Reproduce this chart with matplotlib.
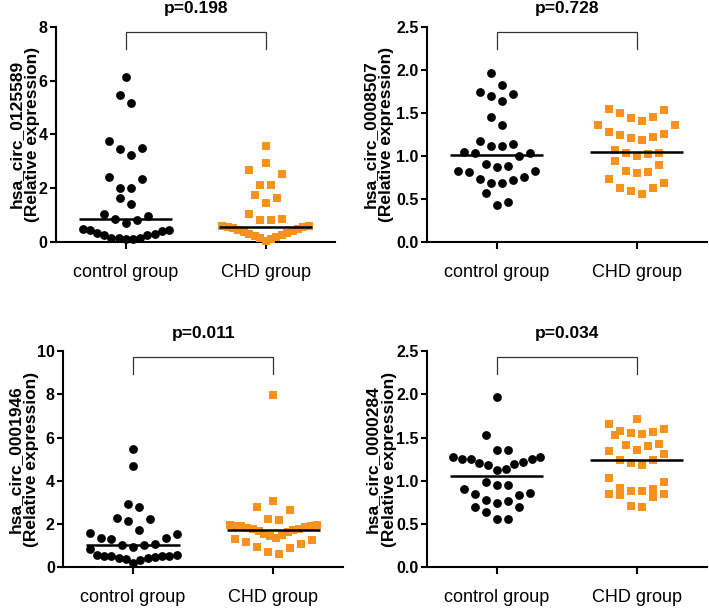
import numpy as np
import matplotlib
matplotlib.use("Agg")
import matplotlib.pyplot as plt

plt.rcParams["font.family"] = ["Liberation Sans", "DejaVu Sans"]

groups = ["control group", "CHD group"]
genes = ["hsa_circ_0125589", "hsa_circ_0008507", "hsa_circ_0001946", "hsa_circ_0000284"]
p_values = ["p=0.198", "p=0.728", "p=0.011", "p=0.034"]

# values (relative expression)
ctrl_0125589 = [6.14, 5.48, 5.17, 3.76, 3.50, 3.45, 3.25, 2.42, 2.33, 1.99, 1.99, 1.65, 1.43,
                0.96, 1.05, 0.81, 0.87, 0.71, 0.46, 0.41, 0.31, 0.25, 0.16, 0.12, 0.15, 0.12,
                0.16, 0.25, 0.35, 0.43, 0.48]
chd_0125589 = [3.57, 2.94, 2.67, 2.54, 2.13, 2.13, 1.74, 1.45, 1.65, 1.05, 0.81, 0.81, 0.87,
               0.05, 0.10, 0.14, 0.18, 0.22, 0.26, 0.30, 0.34, 0.38, 0.42, 0.45, 0.48, 0.51,
               0.54, 0.56, 0.58, 0.60]

ctrl_0008507 = [1.965, 1.83, 1.74, 1.70, 1.72, 1.64, 1.45, 1.36, 1.14, 1.12, 1.12, 1.17, 1.03,
                1.03, 1.04, 1.00, 0.91, 0.87, 0.88, 0.83, 0.81, 0.82, 0.73, 0.69, 0.68, 0.72,
                0.76, 0.57, 0.43, 0.46]
chd_0008507 = [1.55, 1.53, 1.50, 1.44, 1.41, 1.45, 1.36, 1.36, 1.28, 1.24, 1.25, 1.21, 1.19,
               1.22, 1.07, 1.03, 1.00, 1.02, 1.03, 0.94, 0.90, 0.83, 0.80, 0.81, 0.73, 0.68,
               0.63, 0.63, 0.59, 0.56]

ctrl_0001946 = [5.48, 4.66, 2.90, 2.78, 2.27, 2.24, 2.11, 1.70, 1.54, 1.59, 1.36, 1.31, 1.34,
                1.03, 0.93, 0.85, 1.00, 1.08, 0.54, 0.51, 0.49, 0.42, 0.34, 0.19, 0.39, 0.42,
                0.46, 0.49, 0.51, 0.57]
chd_0001946 = [7.99, 3.04, 2.78, 2.65, 2.24, 2.16, 1.93, 1.93, 1.92, 1.90, 1.88, 1.85, 1.82,
               1.78, 1.74, 1.70, 1.65, 1.60, 1.55, 1.48, 1.42, 1.35, 1.28, 1.25, 1.16, 1.06,
               0.93, 0.88, 0.69, 0.60]

ctrl_0000284 = [1.975, 1.53, 1.36, 1.36, 1.27, 1.25, 1.22, 1.19, 1.14, 1.13, 1.18, 1.21, 1.25,
                1.25, 1.28, 0.98, 0.95, 0.95, 0.85, 0.86, 0.90, 0.84, 0.78, 0.74, 0.77, 0.70,
                0.69, 0.64, 0.56, 0.56]
chd_0000284 = [1.72, 1.66, 1.60, 1.58, 1.54, 1.55, 1.57, 1.53, 1.43, 1.42, 1.40, 1.36, 1.34,
               1.31, 1.24, 1.24, 1.21, 1.18, 1.03, 0.99, 0.92, 0.88, 0.85, 0.85, 0.88, 0.90,
               0.81, 0.83, 0.69, 0.71]

y_ticks = [[0, 2, 4, 6, 8], [0, 0.5, 1.0, 1.5, 2.0, 2.5],
           [0, 2, 4, 6, 8, 10], [0, 0.5, 1.0, 1.5, 2.0, 2.5]]

panels = [(ctrl_0125589, chd_0125589), (ctrl_0008507, chd_0008507),
          (ctrl_0001946, chd_0001946), (ctrl_0000284, chd_0000284)]

ORANGE = "#F7921E"


def swarm_x(ax, values, center, bin_px=15, gap_px=11, half_width=0.31):
    # GraphPad-like rows: points binned by height, spread sideways, lowest in the middle
    fig = ax.figure
    bb = ax.get_position()
    w = fig.get_figwidth() * fig.dpi * bb.width
    h = fig.get_figheight() * fig.dpi * bb.height
    x0, x1 = ax.get_xlim()
    y0, y1 = ax.get_ylim()
    ppx = w / (x1 - x0)
    ppy = h / (y1 - y0)
    vals = np.asarray(values, dtype=float)
    order = np.argsort(vals, kind="stable")
    xs = np.zeros(len(vals))
    i = 0
    while i < len(order):
        start = vals[order[i]]
        j = i
        while j < len(order) and (vals[order[j]] - start) * ppy < bin_px:
            j += 1
        idx = order[i:j]
        n = len(idx)
        sp = min(gap_px / ppx, 2 * half_width / (n - 1)) if n > 1 else 0.0
        pos = (np.arange(n) - (n - 1) / 2) * sp
        slots = sorted(range(n), key=lambda k: (round(abs(pos[k]), 9), -pos[k]))
        for v_i, s in zip(idx, slots):
            xs[v_i] = center + pos[s]
        i = j
    return xs


fig = plt.figure(figsize=(7.09, 6.11), dpi=100)
rects = [[0.079, 0.604, 0.394, 0.352], [0.602, 0.604, 0.395, 0.352],
         [0.089, 0.072, 0.395, 0.353], [0.602, 0.072, 0.395, 0.353]]
label_x = [-0.058, -0.118, -0.085, -0.108]

for k, (rect, (ctrl, chd)) in enumerate(zip(rects, panels)):
    ax = fig.add_axes(rect)
    top = y_ticks[k][-1]
    ax.set_xlim(-0.5, 1.5)
    ax.set_ylim(0, top)

    for c, (vals, marker, col, size) in enumerate([(ctrl, "o", "black", 40),
                                                   (chd, "s", ORANGE, 32)]):
        xs = swarm_x(ax, vals, c)
        ax.scatter(xs, vals, marker=marker, s=size, color=col, linewidths=0,
                   clip_on=False, zorder=3)
        med = np.median(vals)
        ax.hlines(med, c - 0.333, c + 0.333, color="black", lw=1.8, zorder=4)

    # significance bracket
    yt = top * 0.975
    yd = top * 0.895
    ax.plot([0, 0, 1, 1], [yd, yt, yt, yd], color="#333333", lw=0.9, clip_on=False)
    ax.annotate(p_values[k], xy=(0.5, top), xycoords="data", xytext=(0, 18),
                textcoords="offset pixels", ha="center", va="center",
                fontsize=12.5, fontweight="bold", annotation_clip=False)

    ax.set_yticks(y_ticks[k])
    if top > 5:
        ax.set_yticklabels([f"{t:g}" for t in y_ticks[k]])
    else:
        ax.set_yticklabels([f"{t:.1f}" for t in y_ticks[k]])
    ax.set_xticks([0, 1], groups)
    for s in ["top", "right"]:
        ax.spines[s].set_visible(False)
    for s in ["left", "bottom"]:
        ax.spines[s].set_linewidth(1.5)
    ax.tick_params(axis="y", length=4.5, width=1.5, pad=1.5, labelsize=11.5)
    ax.tick_params(axis="x", length=5, width=1.5, pad=11, labelsize=13)
    for t in ax.get_yticklabels():
        t.set_fontweight("bold")

    ax.set_ylabel(f"{genes[k]}\n(Relative expression)", fontsize=12.5,
                  fontweight="bold", linespacing=1.12)
    ax.yaxis.set_label_coords(label_x[k], 0.5)

fig.savefig("out.png", dpi=100)
